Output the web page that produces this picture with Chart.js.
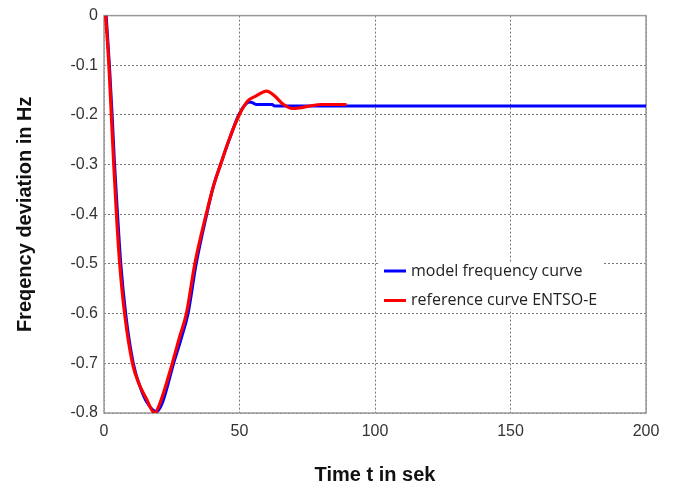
<!DOCTYPE html>
<html>
<head>
<meta charset="utf-8">
<script src="https://cdn.jsdelivr.net/npm/chart.js@4"></script>
<style>
  html, body { margin: 0; padding: 0; background: #fff; }
  #wrap { width: 683px; height: 489px; }
</style>
</head>
<body>
<div id="wrap"><canvas id="chart"></canvas></div>
<script>
// reference curve ENTSO-E (time in s, deviation in Hz)
const refTime = [0.6, 1.8, 2.7, 3.6, 4.6, 5.8, 7.6, 10.5, 12.8, 15.5, 18.7, 21, 25.2, 28, 30.4, 33.5, 37.7, 40.3, 43, 46, 49.9, 53, 56, 60, 63, 66, 69.5, 72, 76, 80, 89.5];
const refFreq = [0, -0.1, -0.2, -0.3, -0.4, -0.5, -0.6, -0.7, -0.74, -0.77, -0.8, -0.775, -0.7, -0.645, -0.6, -0.5, -0.4, -0.345, -0.3, -0.252, -0.2, -0.172, -0.162, -0.152, -0.162, -0.178, -0.187, -0.186, -0.182, -0.179, -0.179];

// model frequency curve
const modelTime = [0.8, 2.0, 3.0, 3.9, 5.0, 6.2, 8.0, 10.8, 13.5, 16, 19.3, 21.5, 25.7, 28.5, 31, 34, 37.9, 40.3, 43, 46, 49.7, 52, 53.8, 55, 56.3, 62, 63, 100, 150, 200];
const modelFreq = [0, -0.1, -0.2, -0.3, -0.4, -0.5, -0.6, -0.7, -0.75, -0.78, -0.797, -0.78, -0.7, -0.65, -0.6, -0.5, -0.4, -0.345, -0.3, -0.253, -0.2, -0.18, -0.174, -0.176, -0.179, -0.179, -0.182, -0.182, -0.182, -0.182];

const xTicks = [0, 50, 100, 150, 200];
const yTicks = [0, -0.1, -0.2, -0.3, -0.4, -0.5, -0.6, -0.7, -0.8];

const seriesNames = ["model frequency curve", "reference curve ENTSO-E"];
const seriesColors = ["#0000ff", "#ff0000"];

function points(ts, vs) {
    return ts.map((t, i) => ({ x: t, y: vs[i] }));
}

// box around the plot area (all four sides)
const frame = {
    id: "frame",
    beforeDatasetsDraw(chart) {
        const { ctx, chartArea: a } = chart;
        ctx.save();
        ctx.strokeStyle = "#9a9a9a";
        ctx.lineWidth = 1.5;
        ctx.strokeRect(a.left, a.top, a.right - a.left, a.bottom - a.top);
        ctx.restore();
    }
};

// legend inside the plot, white background, no border
const innerLegend = {
    id: "innerLegend",
    afterDatasetsDraw(chart) {
        const { ctx } = chart;
        const x0 = 379, y0 = 263;
        ctx.save();
        ctx.fillStyle = "#fff";
        ctx.fillRect(x0, y0, 225, 46);
        ctx.font = "16px 'Open Sans'";
        ctx.textBaseline = "middle";
        seriesNames.forEach((name, i) => {
            const y = 271 + i * 29.5;
            ctx.strokeStyle = seriesColors[i];
            ctx.lineWidth = 3;
            ctx.beginPath();
            ctx.moveTo(384, y);
            ctx.lineTo(406, y);
            ctx.stroke();
            ctx.fillStyle = "#222";
            ctx.fillText(name, 411, y);
        });
        ctx.restore();
    }
};

const gridStyle = {
    color: "#777",
    lineWidth: 1,
    drawTicks: false
};

new Chart(document.getElementById("chart"), {
    type: "line",
    data: {
        datasets: [{
            label: seriesNames[0],
            data: points(modelTime, modelFreq),
            borderColor: seriesColors[0],
            borderWidth: 3,
            pointRadius: 0,
            cubicInterpolationMode: "monotone",
            order: 1
        }, {
            label: seriesNames[1],
            data: points(refTime, refFreq),
            borderColor: seriesColors[1],
            borderWidth: 3.2,
            pointRadius: 0,
            cubicInterpolationMode: "monotone",
            order: 0
        }]
    },
    options: {
        responsive: true,
        maintainAspectRatio: false,
        animation: false,
        layout: { padding: { top: 9, right: 37, bottom: 0, left: 0 } },
        plugins: {
            legend: { display: false },
            tooltip: { enabled: false }
        },
        scales: {
            x: {
                type: "linear",
                min: 0,
                max: 200,
                afterBuildTicks: s => { s.ticks = xTicks.map(v => ({ value: v })); },
                afterFit: s => { s.height = 76; },
                grid: gridStyle,
                border: { display: false, dash: [2, 2] },
                ticks: {
                    padding: 9,
                    color: "#333",
                    font: { family: "'Liberation Sans', Arial", size: 16 },
                    maxRotation: 0
                },
                title: {
                    display: true,
                    text: "Time t in sek",
                    color: "#111",
                    font: { family: "'Liberation Sans', Arial", size: 20, weight: "bold" },
                    padding: { top: 0, bottom: 2 }
                }
            },
            y: {
                type: "linear",
                min: -0.8,
                max: 0,
                afterBuildTicks: s => { s.ticks = yTicks.map(v => ({ value: v })); },
                afterFit: s => { s.width = 104; },
                grid: gridStyle,
                border: { display: false, dash: [2, 2] },
                ticks: {
                    padding: 6,
                    color: "#333",
                    font: { family: "'Liberation Sans', Arial", size: 16 },
                    callback: v => (v === 0 ? "0" : v.toFixed(1))
                },
                title: {
                    display: true,
                    text: "Freqency deviation in Hz",
                    color: "#111",
                    font: { family: "'Liberation Sans', Arial", size: 20, weight: "bold" },
                    padding: { top: 13, bottom: 0 }
                }
            }
        }
    },
    plugins: [frame, innerLegend]
});
</script>
</body>
</html>
